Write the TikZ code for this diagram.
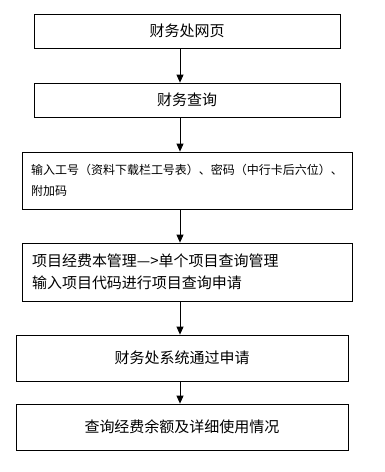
\documentclass[tikz,border=0pt]{standalone}
\usepackage{fontspec}
\setmainfont{Noto Sans CJK SC}
\usetikzlibrary{arrows.meta}
\begin{document}
\begin{tikzpicture}[x=1pt,y=-1pt,
  stepbox/.style={draw,line width=0.8pt,inner sep=0pt,minimum height=#1,
    font=\fontsize{15}{22}\selectfont},
  flow/.style={line width=0.8pt,-{Triangle[width=7pt,length=8pt]}}]
\useasboundingbox (0,0) rectangle (385,472);
\node[stepbox=34pt,minimum width=306pt] (web) at (187,31) {财务处网页};
\node[stepbox=34pt,minimum width=306pt] (query) at (187,100) {财务查询};
\node[stepbox=57pt,minimum width=330pt,text width=312pt,align=left,
  font=\fontsize{12}{21}\selectfont] (login) at (187,180.5)
  {输入工号（资料下载栏工号表）、密码（中行卡后六位）、\\附加码};
\node[stepbox=58pt,minimum width=330pt,text width=310pt,align=left] (project) at (187,272)
  {项目经费本管理—>单个项目查询管理\\输入项目代码进行项目查询申请};
\node[stepbox=46pt,minimum width=332pt] (approve) at (182,358) {财务处系统通过申请};
\node[stepbox=46pt,minimum width=332pt] (result) at (182,427) {查询经费余额及详细使用情况};
\coordinate (ax) at (180,0);
\draw[flow] (web.south -| ax) -- (query.north -| ax);
\draw[flow] (query.south -| ax) -- (login.north -| ax);
\draw[flow] (login.south -| ax) -- (project.north -| ax);
\draw[flow] (project.south -| ax) -- (approve.north -| ax);
\draw[flow] (approve.south -| ax) -- (result.north -| ax);
\end{tikzpicture}
\end{document}
